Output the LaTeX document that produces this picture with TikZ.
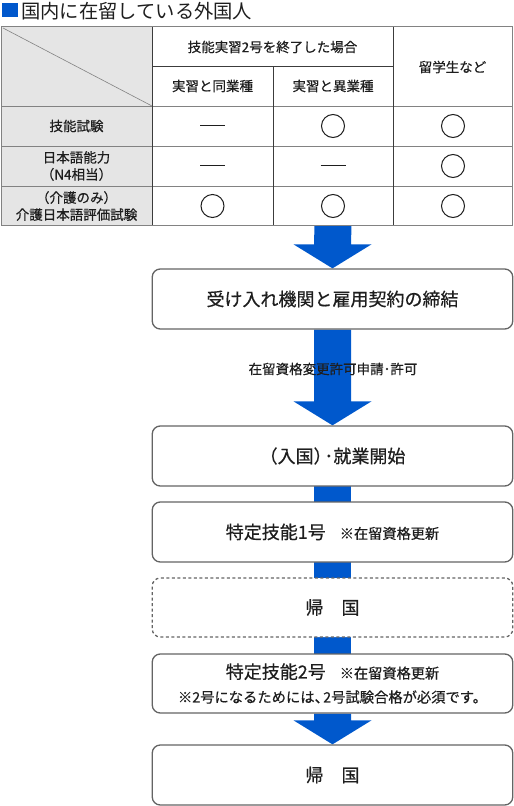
\documentclass[tikz,border=0pt]{standalone}
\usepackage{fontspec}
\setmainfont{Noto Sans CJK JP}[FakeBold=0.5]
\newfontfamily\titlefont{Noto Sans CJK JP}
\usetikzlibrary{calc,backgrounds}
\definecolor{fblue}{RGB}{0,88,204}
\definecolor{cellgray}{RGB}{229,229,229}
\definecolor{gridgray}{RGB}{130,130,130}
\definecolor{griddark}{RGB}{60,60,60}
\definecolor{boxgray}{RGB}{100,100,100}
\definecolor{txt}{RGB}{30,30,30}
\tikzset{
  cell/.style={text=txt,font=\fontsize{13.5}{17}\selectfont,align=center,inner sep=0pt},
  flowbox/.style={draw=boxgray,line width=1.3pt,fill=white,rounded corners=8pt,minimum width=360.5pt,text=txt,font=\fontsize{18}{22}\selectfont,align=center},
  dashbox/.style={flowbox,dash pattern=on 3pt off 2.5pt},
  symline/.style={draw=txt,line width=1pt},
}
\newcommand\flowarrow[2]{\fill[fblue] ($(#1)+(-18.5,0)$) -- ($(#2)+(-18.5,-24)$) -- ($(#2)+(-39,-24)$) -- (#2) -- ($(#2)+(39,-24)$) -- ($(#2)+(18.5,-24)$) -- ($(#1)+(18.5,0)$) -- cycle;}
\newcommand\flowshaft[2]{\fill[fblue] ($(#1)+(-18.5,-1)$) rectangle ($(#2)+(18.5,1)$);}
\newcommand\notefont{\fontsize{14.2}{17}\selectfont}
\begin{document}
\begin{tikzpicture}[x=1pt,y=-1pt]
\useasboundingbox (0,0) rectangle (514,806);
% title
\fill[fblue] (2,3) rectangle (18,17);
\node[anchor=west,inner sep=0pt,text=txt,font=\titlefont\fontsize{19.3}{22}\selectfont] (title) at (21,11) {国内に在留している外国人};
% table
\fill[cellgray] (1,26) rectangle (152,225);
\draw[gridgray,line width=0.8pt] (1,106) -- (512,106) (1,146) -- (512,146) (1,186) -- (512,186);
\draw[griddark,line width=0.8pt] (152,66) -- (393,66);
\draw[griddark,line width=0.8pt] (152,26) -- (152,225) (273,66) -- (273,225) (393,26) -- (393,225);
\draw[gridgray,line width=0.6pt] (3,28) -- (152,106);
\draw[gridgray,line width=1pt] (1,26) rectangle (512,225);
\coordinate (tblbot) at (333,225);
\node[cell] (h1) at (272.5,47) {技能実習2号を終了した場合};
\node[cell] (h2) at (452.5,67) {留学生など};
\node[cell] (h3) at (212.5,86) {実習と同業種};
\node[cell] (h4) at (333,86) {実習と異業種};
\node[cell] (r1) at (76.5,126) {技能試験};
\node[cell] (r2) at (76.5,166) {日本語能力\\（N4相当）};
\node[cell] (r3) at (76.5,206) {（介護のみ）\\介護日本語評価試験};
\draw[symline] (200,125.5) -- (225,125.5);
\draw[symline] (333,126) circle (11.5);
\draw[symline] (453,126) circle (11.5);
\draw[symline] (200,165.5) -- (225,165.5);
\draw[symline] (320.5,165.5) -- (345.5,165.5);
\draw[symline] (453,166) circle (11.5);
\draw[symline] (212.5,206) circle (11.5);
\draw[symline] (333,206) circle (11.5);
\draw[symline] (453,206) circle (11.5);
% flow boxes
\node[flowbox,minimum height=60pt] (b1) at (332.5,299) {受け入れ機関と雇用契約の締結};
\node[cell] (lab) at (333,369) {在留資格変更許可申請･許可};
\node[flowbox,minimum height=60pt] (b2) at (332.5,456) {（入国）\hspace{-0.4em}･就業開始};
\node[flowbox,minimum height=60pt] (b3) at (332.5,532) {特定技能1号\hspace{14pt}{\notefont ※在留資格更新}};
\node[dashbox,minimum height=59pt] (b4) at (332.5,607.5) {帰　国};
\node[flowbox,minimum height=59pt] (b5) at (332.5,683.5) {特定技能2号\hspace{14pt}{\notefont ※在留資格更新}\\[2pt]{\fontsize{14.3}{16}\selectfont ※2号になるためには、\hspace{-0.4em}2号試験合格が必須です。}};
\node[flowbox,minimum height=60pt] (b6) at (332.5,775) {帰　国};
\begin{pgfonlayer}{background}
\flowarrow{tblbot}{b1.north}
\flowarrow{b1.south}{b2.north}
\flowshaft{b2.south}{b3.north}
\flowshaft{b3.south}{b4.north}
\flowshaft{b4.south}{b5.north}
\flowarrow{b5.south}{b6.north}
\end{pgfonlayer}
\end{tikzpicture}
\end{document}
